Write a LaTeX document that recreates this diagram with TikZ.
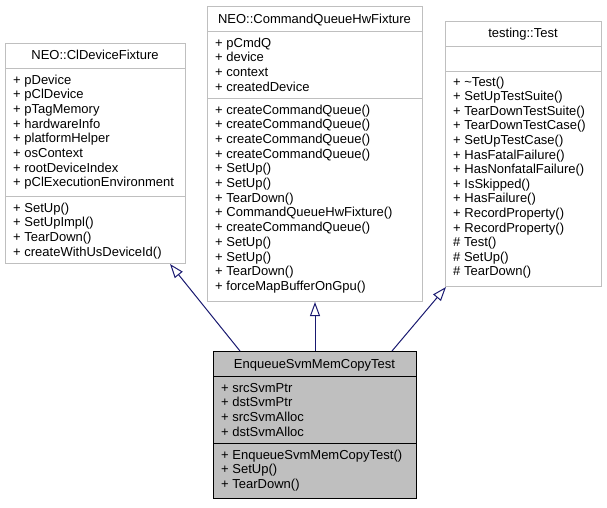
\documentclass[tikz,border=0pt]{standalone}
\usepackage{fontspec}
\setmainfont{Liberation Sans}
\usetikzlibrary{positioning,calc,arrows.meta}
\definecolor{edgeblue}{HTML}{191970}
\definecolor{boxgrey}{HTML}{BFBFBF}
\tikzset{cbox/.style={draw=boxgrey,fill=white,line width=1pt,inner sep=0pt,anchor=north west}  }
\tikzset{sepline/.style={draw=boxgrey,line width=1pt}  }
\tikzset{mbr/.style={anchor=base west,inner sep=0pt,font=\fontsize{13}{15}\selectfont}  }
\tikzset{ttl/.style={anchor=base,inner sep=0pt,font=\fontsize{13}{15}\selectfont}  }
\tikzset{inh/.style={draw=edgeblue,line width=1pt,-{Triangle[open,length=14pt,width=10pt]}}  }

\begin{document}
\begin{tikzpicture}[x=1pt,y=-1pt]
	\useasboundingbox (0,0) rectangle (607,507);
	% class boxes
	\node[cbox,minimum width=180pt,minimum height=220pt] (clfix) at (5,43) {};
	\node[cbox,minimum width=215pt,minimum height=295pt] (cqfix) at (207,6) {};
	\node[cbox,minimum width=156pt,minimum height=265pt] (test) at (445,21) {};
	\node[cbox,draw=black,fill=boxgrey,minimum width=203pt,minimum height=147pt] (enq) at (213,351) {};

	\draw[sepline] (5,68) -- (185,68) (5,196) -- (185,196);
	\draw[sepline] (207,31) -- (422,31) (207,98) -- (422,98);
	\draw[sepline] (445,46) -- (601,46) (445,71) -- (601,71);
	\draw[black,line width=1pt] (213,376) -- (416,376) (213,443) -- (416,443);

	\node[ttl] (clfixt) at (95,59) {NEO::ClDeviceFixture};
	\node[ttl] (cqfixt) at (314.5,23) {NEO::CommandQueueHwFixture};
	\node[ttl] (testt) at (523,37) {testing::Test};
	\node[ttl] (enqt) at (314.5,368) {EnqueueSvmMemCopyTest};

	\foreach \m [count=\i from 0] in {+ pDevice,+ pClDevice,+ pTagMemory,+ hardwareInfo,+ platformHelper,+ osContext,+ rootDeviceIndex,+ pClExecutionEnvironment}
		\node[mbr] (clfa\i) at (13,84+14.7*\i) {\m};
	\foreach \m [count=\i from 0] in {+ SetUp(),+ SetUpImpl(),+ TearDown(),+ createWithUsDeviceId()}
		\node[mbr] (clfm\i) at (13,212+14.9*\i) {\m};

	\foreach \m [count=\i from 0] in {+ pCmdQ,+ device,+ context,+ createdDevice}
		\node[mbr] (cqfa\i) at (215,47+14.7*\i) {\m};
	\foreach \m [count=\i from 0] in {+ createCommandQueue(),+ createCommandQueue(),+ createCommandQueue(),+ createCommandQueue(),+ SetUp(),+ SetUp(),+ TearDown(),+ CommandQueueHwFixture(),+ createCommandQueue(),+ SetUp(),+ SetUp(),+ TearDown(),+ forceMapBufferOnGpu()}
		\node[mbr] (cqfm\i) at (215,114+14.7*\i) {\m};

	\foreach \m [count=\i from 0] in {+ \textasciitilde Test(),+ SetUpTestSuite(),+ TearDownTestSuite(),+ TearDownTestCase(),+ SetUpTestCase(),+ HasFatalFailure(),+ HasNonfatalFailure(),+ IsSkipped(),+ HasFailure(),+ RecordProperty(),+ RecordProperty(),\# Test(),\# SetUp(),\# TearDown()}
		\node[mbr] (testm\i) at (453,86+14.6*\i) {\m};

	\foreach \m [count=\i from 0] in {+ srcSvmPtr,+ dstSvmPtr,+ srcSvmAlloc,+ dstSvmAlloc}
		\node[mbr] (enqa\i) at (221,392+14.7*\i) {\m};
	\foreach \m [count=\i from 0] in {+ EnqueueSvmMemCopyTest(),+ SetUp(),+ TearDown()}
		\node[mbr] (enqm\i) at (221,459+14.7*\i) {\m};

	% inheritance
	\draw[inh] ([xshift=27pt]enq.north west) -- ([xshift=165pt]clfix.south west);
	\draw[inh] (enq.north) -- (enq.north |- cqfix.south);
	\draw[inh] ([xshift=-25pt]enq.north east) -- ([xshift=1pt]test.south west);
\end{tikzpicture}
\end{document}
